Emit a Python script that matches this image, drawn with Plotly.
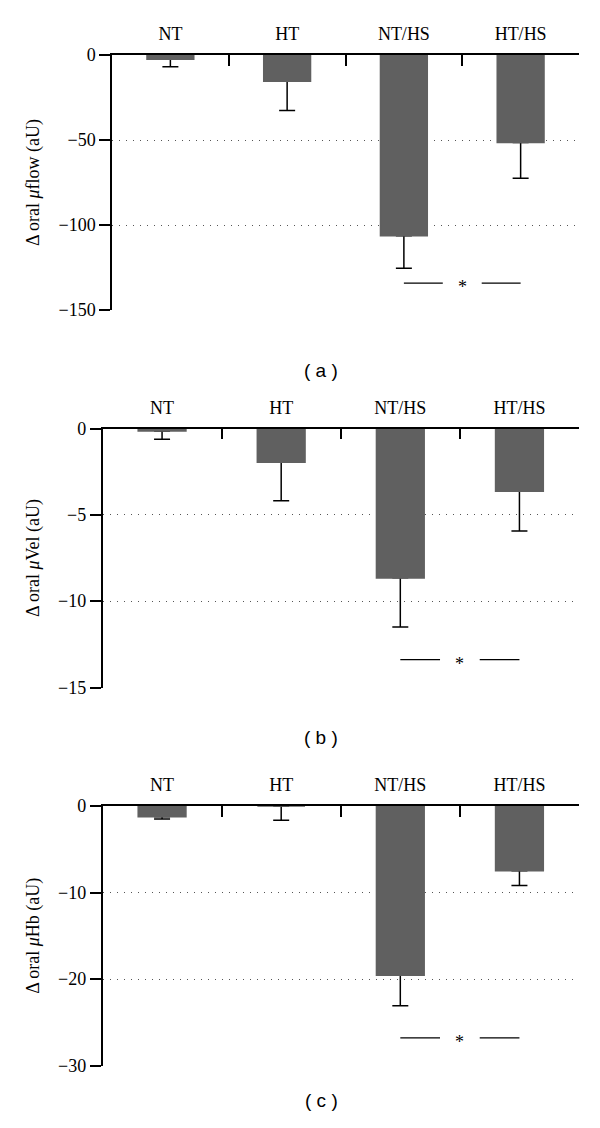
import plotly.graph_objects as go

categories = ["NT", "HT", "NT/HS", "HT/HS"]

# Panel (a): Δ oral μflow
flow_mean = [-2.4, -15.4, -106.3, -51.4]
flow_err = [4.5, 17.2, 19.1, 21.1]
flow_sig = -134.2

# Panel (b): Δ oral μVel
vel_mean = [-0.14, -1.95, -8.65, -3.63]
vel_err = [0.48, 2.24, 2.85, 2.30]
vel_sig = -13.38

# Panel (c): Δ oral μHb
hb_mean = [-1.24, 0.0, -19.56, -7.49]
hb_err = [0.26, 1.65, 3.54, 1.69]
hb_sig = -26.8

y_ticks_a = [0, -50, -100, -150]
y_ticks_b = [0, -5, -10, -15]
y_ticks_c = [0, -10, -20, -30]

titles = ["Δ oral <i>μ</i>flow (aU)", "Δ oral <i>μ</i>Vel (aU)", "Δ oral <i>μ</i>Hb (aU)"]
panel_labels = ["( a )", "( b )", "( c )"]

# page body has an 8px margin; the figure is sized to fit inside the window
OFF = 8
W, H = 600 - OFF, 1128 - OFF
BAR = "#606060"
SERIF = "Liberation Serif"

# plot area pixel geometry in window coordinates (left, right, top, bottom)
geo = [(112, 579, 55, 310), (102.5, 579, 428.5, 687.5), (102.5, 579, 806, 1065.5)]
label_y = [358, 737, 1113]
label_x = 321

fig = go.Figure()
panels = [(flow_mean, flow_err, flow_sig, y_ticks_a),
          (vel_mean, vel_err, vel_sig, y_ticks_b),
          (hb_mean, hb_err, hb_sig, y_ticks_c)]

for i, (means, errs, sig, ticks) in enumerate(panels):
    n = i + 1
    xa = "x" if n == 1 else f"x{n}"
    ya = "y" if n == 1 else f"y{n}"
    # error bars (drawn beneath the visible bars so the cap at the bar end is hidden)
    fig.add_trace(go.Bar(
        x=categories, y=means, xaxis=xa, yaxis=ya,
        marker=dict(color="rgba(0,0,0,0)", line=dict(width=0)), width=0.4,
        error_y=dict(type="data", symmetric=False, array=[0] * 4, arrayminus=errs,
                     color="black", thickness=1.5, width=8),
        showlegend=False, hoverinfo="skip"))
    fig.add_trace(go.Bar(
        x=categories, y=means, xaxis=xa, yaxis=ya,
        marker=dict(color=BAR, line=dict(width=1.6, color=BAR)), width=0.4,
        showlegend=False, hoverinfo="skip"))
    l, r, t, b = [v - OFF for v in geo[i]]
    xkey = "xaxis" if n == 1 else f"xaxis{n}"
    ykey = "yaxis" if n == 1 else f"yaxis{n}"
    fig.update_layout(**{
        xkey: dict(domain=[l / W, r / W], anchor=ya, side="top", type="category",
                   showline=True, linecolor="black", linewidth=1.5,
                   ticks="inside", tickson="boundaries", ticklen=11, tickwidth=1.5,
                   tickcolor="black", ticklabelstandoff=6, automargin=False,
                   tickfont=dict(family=SERIF, size=18, color="black"),
                   showgrid=False, zeroline=False, fixedrange=True),
        ykey: dict(domain=[1 - b / H, 1 - t / H], anchor=xa,
                   range=[ticks[-1], 0], tickvals=ticks, automargin=False,
                   showline=True, linecolor="black", linewidth=1.5,
                   ticks="outside", ticklen=11, tickwidth=1.5, tickcolor="black",
                   tickfont=dict(family=SERIF, size=18, color="black"),
                   showgrid=True, gridcolor="#555555", griddash="1px,6px", gridwidth=1,
                   zeroline=False,
                   title=dict(text=titles[i], font=dict(family=SERIF, size=18, color="black"),
                              standoff=14)),
    })
    # significance marker between NT/HS and HT/HS
    i1 = categories.index("NT/HS")
    i2 = categories.index("HT/HS")
    gap = (i2 - i1) / 3
    for x0, x1 in [(i1, i1 + gap), (i2 - gap, i2)]:
        fig.add_shape(type="line", xref=xa, yref=ya, x0=x0, x1=x1, y0=sig, y1=sig,
                      line=dict(color="black", width=1.2))
    fig.add_annotation(x=(i1 + i2) / 2, y=sig, xref=xa, yref=ya, text="*",
                       showarrow=False, yshift=-4,
                       font=dict(family=SERIF, size=18, color="black"))
    fig.add_annotation(x=(label_x - OFF) / W, y=1 - (label_y[i] - OFF) / H,
                       xref="paper", yref="paper",
                       text=panel_labels[i], showarrow=False,
                       font=dict(family="Liberation Sans", size=19, color="black"))

fig.update_layout(width=W, height=H, margin=dict(l=0, r=0, t=0, b=0),
                  plot_bgcolor="white", paper_bgcolor="white", barmode="overlay")
fig.write_html("out.html")
